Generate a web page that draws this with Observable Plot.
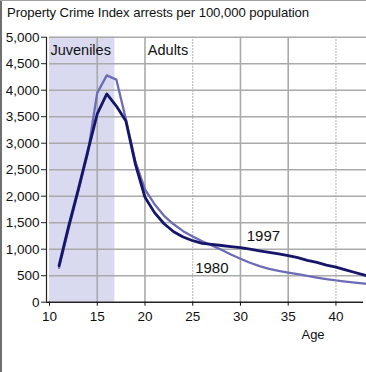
<!DOCTYPE html>
<html>
<head>
<meta charset="utf-8">
<script src="https://cdn.jsdelivr.net/npm/d3@7"></script>
<script src="https://cdn.jsdelivr.net/npm/@observablehq/plot@0.6"></script>
<style>
  html, body { margin: 0; padding: 0; background: #fff; }
  #wrap { position: relative; width: 366px; height: 372px; overflow: hidden; font-family: "Liberation Sans", Arial, sans-serif; }
  #title { position: absolute; left: 7px; top: 5px; font-size: 13.2px; color: #111; white-space: nowrap; letter-spacing: -0.1px; }
  #chart { position: absolute; left: 0; top: 28px; }
  #bl { position: absolute; left: 0; top: 0; width: 2px; height: 372px; background: #707070; }
  #bt { position: absolute; left: 0; top: 0; width: 366px; height: 1px; background: #a0a0a0; }
</style>
</head>
<body>
<div id="wrap">
  <div id="title">Property Crime Index arrests per 100,000 population</div>
  <div id="chart"></div>
  <div id="bl"></div>
  <div id="bt"></div>
</div>
<script>
const ages = [11,12,13,14,15,16,17,18,19,20,21,22,23,24,25,26,27,28,29,30,31,32,33,34,35,36,37,38,39,40,41,42,43,44];
const rate1997 = [690,1430,2120,2840,3555,3930,3700,3420,2600,1980,1690,1480,1330,1230,1160,1110,1090,1070,1050,1030,1000,970,940,910,880,840,790,750,700,660,610,560,510,470];
const rate1980 = [650,1380,2080,2800,3950,4280,4200,3450,2650,2130,1850,1630,1470,1340,1240,1150,1070,990,900,820,745,680,630,590,560,530,495,465,435,410,390,370,350,330];
const yTicks = [0,500,1000,1500,2000,2500,3000,3500,4000,4500,5000];
const xTicks = [10,15,20,25,30,35,40];
const solidX = [15,20,30,35];
const dottedX = [25,40];
const juvenileSpan = [{from: 10, to: 16.85}];
const regionLabels = [{age: 10.1, value: 4760, text: "Juveniles"}, {age: 20.3, value: 4760, text: "Adults"}];
const seriesLabels = [{age: 32.4, value: 1240, text: "1997"}, {age: 27.0, value: 640, text: "1980"}];

const d1997 = ages.map((a, i) => ({age: a, value: rate1997[i]}));
const d1980 = ages.map((a, i) => ({age: a, value: rate1980[i]}));

const chart = Plot.plot({
  width: 366,
  height: 344,
  marginLeft: 49,
  marginRight: 0,
  marginTop: 8.7,
  marginBottom: 70.3,
  style: {fontFamily: "'Liberation Sans', Arial, sans-serif", background: "transparent", overflow: "visible"},
  x: {domain: [10, 43.2]},
  y: {domain: [0, 5000]},
  marks: [
    Plot.rectY(juvenileSpan, {x1: "from", x2: "to", y1: 0, y2: 5000, fill: "#d9d9ef"}),
    Plot.ruleY(yTicks.filter(d => d > 0), {stroke: "#aaaaaa", strokeWidth: 1.6}),
    Plot.ruleX(solidX, {y1: 0, y2: 5000, stroke: "#aaaaaa", strokeWidth: 1.6}),
    Plot.ruleX(dottedX, {y1: 0, y2: 5000, stroke: "#aaaaaa", strokeWidth: 1.2, strokeDasharray: "1.5,1.5"}),
    Plot.line(d1980, {x: "age", y: "value", stroke: "#6c6cb6", strokeWidth: 2.3, curve: "linear", clip: true}),
    Plot.line(d1997, {x: "age", y: "value", stroke: "#15156a", strokeWidth: 2.8, curve: "linear", clip: true}),
    Plot.ruleX([10], {y1: 0, y2: 5000, dx: -3, stroke: "#222", strokeWidth: 1.2}),
    Plot.ruleY([0], {dx: -3, stroke: "#222", strokeWidth: 1.4}),
    Plot.axisY({ticks: yTicks, tickFormat: d3.format(","), tickSize: 5, tickPadding: 2, dx: -3, fontSize: 13.5, color: "#111", stroke: "#222", label: null}),
    Plot.axisX({ticks: xTicks, tickSize: 4, tickPadding: 5, fontSize: 13.5, color: "#111", label: null}),
    Plot.text(regionLabels, {x: "age", y: "value", text: "text", textAnchor: "start", fontSize: 14.5, fill: "#111"}),
    Plot.text(seriesLabels, {x: "age", y: "value", text: "text", fontSize: 15, fill: "#111"}),
    Plot.text(["Age"], {x: [37.6], frameAnchor: "bottom", dy: 36.3, fontSize: 13, fill: "#111"})
  ]
});
document.getElementById("chart").appendChild(chart);
</script>
</body>
</html>
